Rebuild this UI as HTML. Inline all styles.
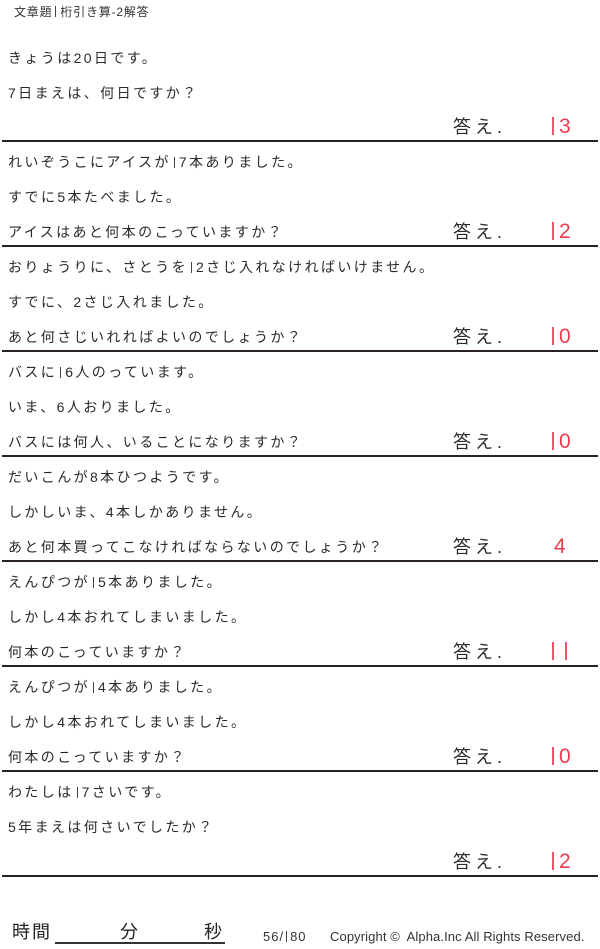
<!DOCTYPE html>
<html><head><meta charset="utf-8">
<style>
html,body{margin:0;padding:0;background:#fff;}
body{width:600px;height:949px;position:relative;overflow:hidden;font-family:"Liberation Sans","Noto Sans CJK JP",sans-serif;color:#222;}
.t{position:absolute;left:8px;font-size:14px;letter-spacing:2.4px;line-height:16px;white-space:nowrap;color:#2a2a2a;}
.hr{position:absolute;left:2px;width:596px;height:2px;background:#2a2222;}
.ans{position:absolute;left:453px;font-size:18px;letter-spacing:4px;line-height:20px;color:#2a2a2a;}
.num{position:absolute;left:552px;font-size:21px;line-height:22px;color:#ee3a50;white-space:nowrap;}
.one{display:inline-block;width:2px;height:18px;background:#f05468;margin-right:5px;vertical-align:-2px;}
.one1{display:inline-block;width:1px;height:11px;background:#444;margin:0 4px 0 3px;vertical-align:-1px;}
</style></head><body>
<div class="t" style="top:4px;left:14px;font-size:12px;letter-spacing:0.8px;color:#333;">文章題<span class="one1"></span>桁引き算-2解答</div>

<div class="t" style="top:50px">きょうは20日です。</div>
<div class="t" style="top:85px">7日まえは、何日ですか？</div>
<div class="ans" style="top:117px">答え.</div><div class="num" style="top:116px"><span class="one"></span>3</div>
<div class="hr" style="top:140px"></div>

<div class="t" style="top:154px">れいぞうこにアイスが<span class="one1"></span>7本ありました。</div>
<div class="t" style="top:189px">すでに5本たべました。</div>
<div class="t" style="top:224px">アイスはあと何本のこっていますか？</div>
<div class="ans" style="top:222px">答え.</div><div class="num" style="top:221px"><span class="one"></span>2</div>
<div class="hr" style="top:245px"></div>

<div class="t" style="top:259px">おりょうりに、さとうを<span class="one1"></span>2さじ入れなければいけません。</div>
<div class="t" style="top:294px">すでに、2さじ入れました。</div>
<div class="t" style="top:329px">あと何さじいれればよいのでしょうか？</div>
<div class="ans" style="top:327px">答え.</div><div class="num" style="top:326px"><span class="one"></span>0</div>
<div class="hr" style="top:350px"></div>

<div class="t" style="top:364px">バスに<span class="one1"></span>6人のっています。</div>
<div class="t" style="top:399px">いま、6人おりました。</div>
<div class="t" style="top:434px">バスには何人、いることになりますか？</div>
<div class="ans" style="top:432px">答え.</div><div class="num" style="top:431px"><span class="one"></span>0</div>
<div class="hr" style="top:455px"></div>

<div class="t" style="top:469px">だいこんが8本ひつようです。</div>
<div class="t" style="top:504px">しかしいま、4本しかありません。</div>
<div class="t" style="top:539px">あと何本買ってこなければならないのでしょうか？</div>
<div class="ans" style="top:537px">答え.</div><div class="num" style="top:536px;left:554px">4</div>
<div class="hr" style="top:560px"></div>

<div class="t" style="top:574px">えんぴつが<span class="one1"></span>5本ありました。</div>
<div class="t" style="top:609px">しかし4本おれてしまいました。</div>
<div class="t" style="top:644px">何本のこっていますか？</div>
<div class="ans" style="top:642px">答え.</div><div class="num" style="top:641px"><span class="one" style="margin-right:11px"></span><span class="one"></span></div>
<div class="hr" style="top:665px"></div>

<div class="t" style="top:679px">えんぴつが<span class="one1"></span>4本ありました。</div>
<div class="t" style="top:714px">しかし4本おれてしまいました。</div>
<div class="t" style="top:749px">何本のこっていますか？</div>
<div class="ans" style="top:747px">答え.</div><div class="num" style="top:746px"><span class="one"></span>0</div>
<div class="hr" style="top:770px"></div>

<div class="t" style="top:784px">わたしは<span class="one1"></span>7さいです。</div>
<div class="t" style="top:819px">5年まえは何さいでしたか？</div>
<div class="ans" style="top:852px">答え.</div><div class="num" style="top:851px"><span class="one"></span>2</div>
<div class="hr" style="top:875px"></div>

<div style="position:absolute;left:12px;top:922px;font-size:18px;letter-spacing:2px;line-height:20px;">時間</div>
<div style="position:absolute;left:55px;top:942px;width:170px;height:1.5px;background:#333;"></div>
<div style="position:absolute;left:120px;top:922px;font-size:18px;line-height:20px;">分</div>
<div style="position:absolute;left:204px;top:922px;font-size:18px;line-height:20px;">秒</div>
<div style="position:absolute;left:263px;top:930px;font-size:13px;line-height:14px;color:#333;letter-spacing:1px;">56/<span class="one1" style="margin:0 3px 0 2px"></span>80</div>
<div style="position:absolute;left:330px;top:930px;font-size:13px;line-height:14px;color:#333;white-space:nowrap;letter-spacing:0.1px;">Copyright ©&nbsp; Alpha.Inc All Rights Reserved.</div>
</body></html>
